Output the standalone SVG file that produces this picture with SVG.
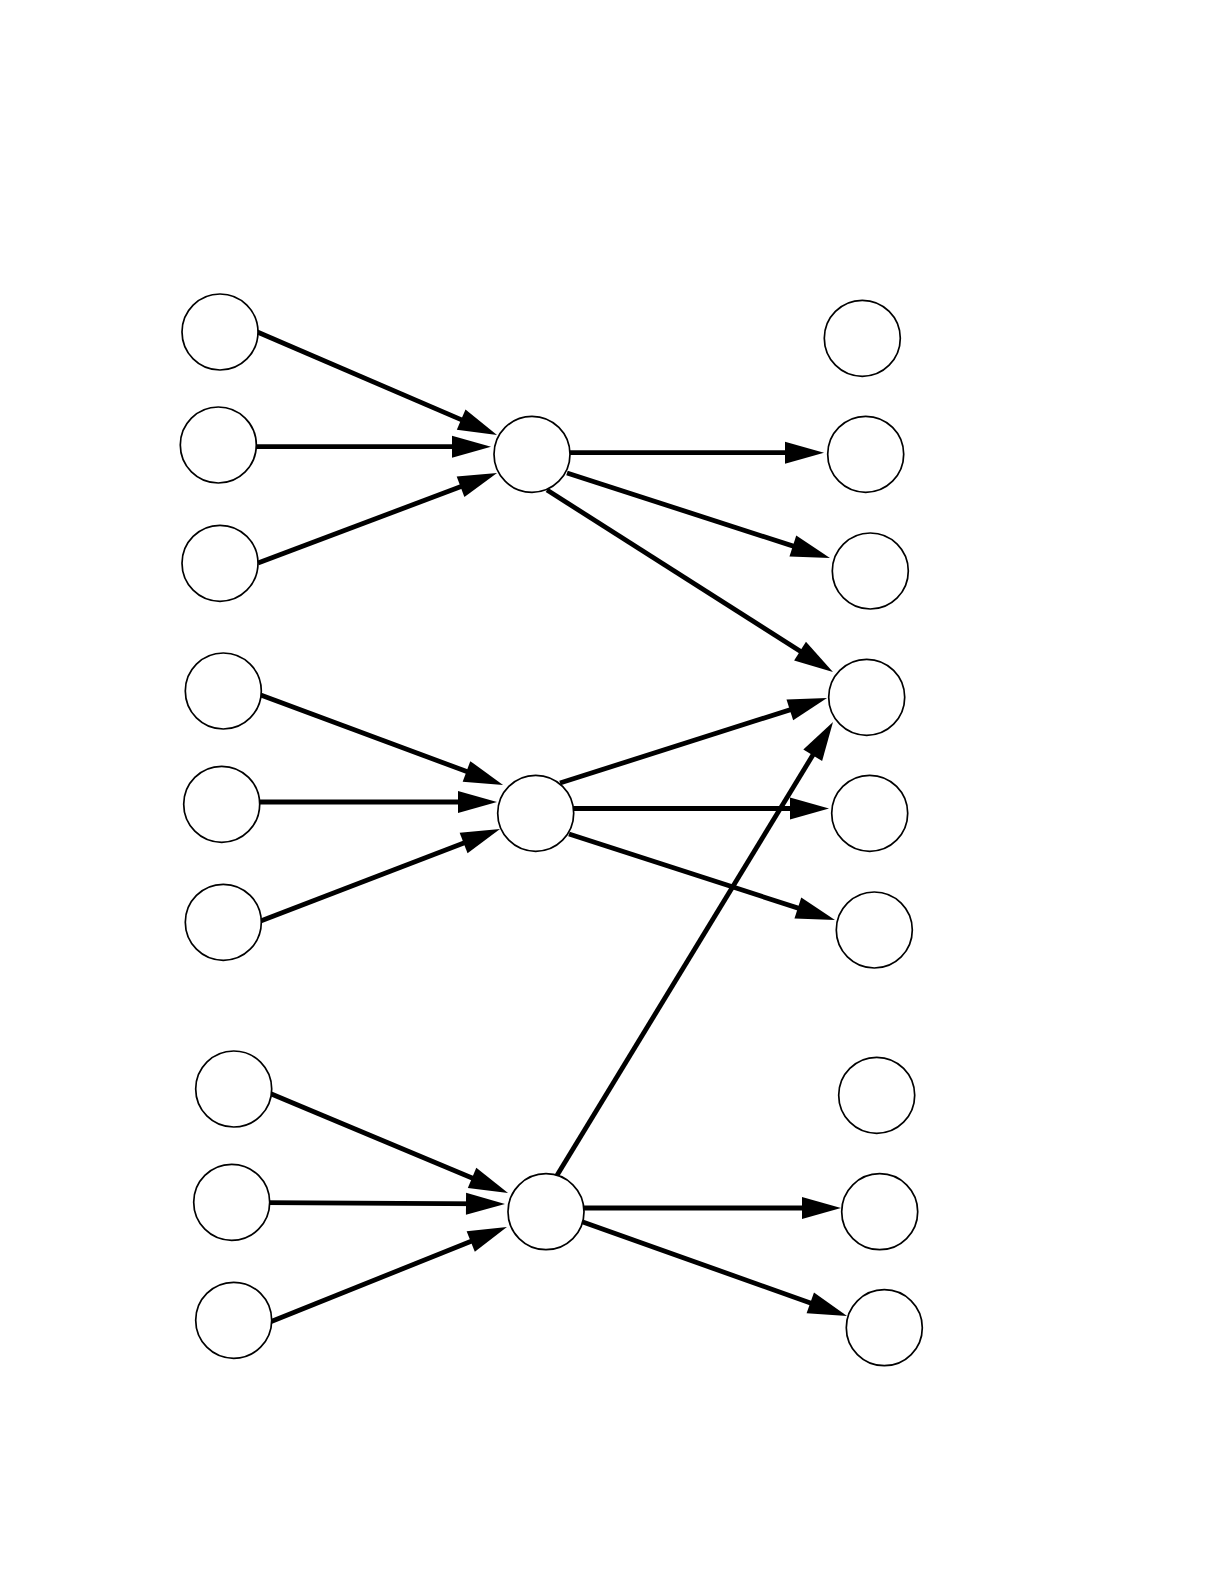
<svg xmlns="http://www.w3.org/2000/svg" width="1224" height="1584" viewBox="0 0 1224 1584">
<style>
.n{fill:#fff;stroke:#000;stroke-width:1.7}
.e{stroke:#000;stroke-width:4.8;fill:none;marker-end:url(#ah)}
</style>
<defs>
<marker id="ah" markerUnits="userSpaceOnUse" markerWidth="40" markerHeight="24" refX="24" refY="11" orient="auto" overflow="visible">
<path d="M0,0 L39,11 L0,22 z" fill="#000"/>
</marker>
</defs>
<rect width="1224" height="1584" fill="#fff"/>
<g id="edges">
<line class="e" x1="255" y1="331" x2="483.2" y2="429.1"/>
<line class="e" x1="255" y1="446.7" x2="476" y2="446.7"/>
<line class="e" x1="258" y1="563" x2="483" y2="478.3"/>
<line class="e" x1="570" y1="452.7" x2="809" y2="452.7"/>
<line class="e" x1="567" y1="473" x2="815.7" y2="553.4"/>
<line class="e" x1="547" y1="490" x2="820.3" y2="664"/>
<line class="e" x1="560" y1="783" x2="812.7" y2="702.6"/>
<line class="e" x1="572" y1="808.5" x2="814" y2="808.5"/>
<line class="e" x1="569" y1="834" x2="820.7" y2="915.4"/>
<line class="e" x1="556" y1="1177" x2="825.2" y2="734.8"/>
<line class="e" x1="258" y1="694" x2="489" y2="779.8"/>
<line class="e" x1="258" y1="802" x2="482" y2="802"/>
<line class="e" x1="258" y1="922" x2="486" y2="834.4"/>
<line class="e" x1="269" y1="1093" x2="494.2" y2="1187.2"/>
<line class="e" x1="266" y1="1202.7" x2="490" y2="1203.9"/>
<line class="e" x1="270" y1="1322" x2="493" y2="1232.5"/>
<line class="e" x1="580" y1="1208" x2="826" y2="1208"/>
<line class="e" x1="580" y1="1221" x2="832.9" y2="1311"/>
</g>
<g id="a1"><circle class="n" cx="220" cy="332" r="38"/></g>
<g id="a2"><circle class="n" cx="218.3" cy="445" r="38"/></g>
<g id="a3"><circle class="n" cx="220" cy="563.3" r="38"/></g>
<g id="b1"><circle class="n" cx="223.3" cy="691" r="38"/></g>
<g id="b2"><circle class="n" cx="221.7" cy="804.3" r="38"/></g>
<g id="b3"><circle class="n" cx="223.3" cy="922.3" r="38"/></g>
<g id="c1"><circle class="n" cx="233.7" cy="1089" r="38"/></g>
<g id="c2"><circle class="n" cx="231.7" cy="1202.3" r="38"/></g>
<g id="c3"><circle class="n" cx="233.7" cy="1320.3" r="38"/></g>
<g id="h1"><circle class="n" cx="532" cy="454.3" r="38"/></g>
<g id="h2"><circle class="n" cx="535.7" cy="813.3" r="38"/></g>
<g id="h3"><circle class="n" cx="546" cy="1211.7" r="38"/></g>
<g id="r1"><circle class="n" cx="862.3" cy="338.3" r="38"/></g>
<g id="r2"><circle class="n" cx="865.7" cy="454.3" r="38"/></g>
<g id="r3"><circle class="n" cx="870.3" cy="571" r="38"/></g>
<g id="r4"><circle class="n" cx="866.7" cy="697.3" r="38"/></g>
<g id="r5"><circle class="n" cx="869.7" cy="813.3" r="38"/></g>
<g id="r6"><circle class="n" cx="874.3" cy="930" r="38"/></g>
<g id="r7"><circle class="n" cx="876.7" cy="1095.3" r="38"/></g>
<g id="r8"><circle class="n" cx="879.7" cy="1211.7" r="38"/></g>
<g id="r9"><circle class="n" cx="884.3" cy="1327.7" r="38"/></g>
</svg>
